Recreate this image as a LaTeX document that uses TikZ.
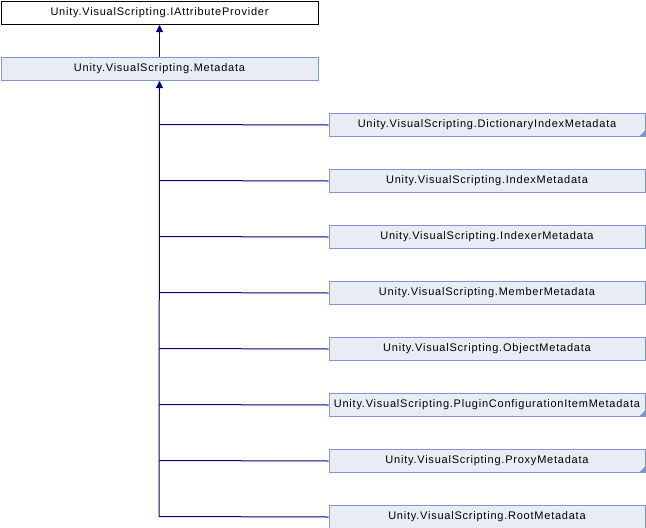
\documentclass[tikz,border=0pt]{standalone}
\usepackage{fontspec}
\setmainfont{Liberation Sans}[LetterSpace=7]
\usetikzlibrary{arrows.meta}
\definecolor{boxfill}{RGB}{232,236,244}
\definecolor{boxline}{RGB}{128,152,204}
\definecolor{navy}{RGB}{0,0,128}
\begin{document}
\begin{tikzpicture}[x=1pt,y=-1pt,
  cls/.style={draw=boxline,fill=boxfill,line width=1pt,minimum height=23pt,inner sep=0pt,font=\fontsize{11}{13}\selectfont,anchor=north west},
  iface/.style={cls,draw=black,fill=white},
  inh/.style={draw=navy,line width=1pt,-{Triangle[length=7pt,width=7pt]}},
  edge/.style={draw=navy,line width=1pt},
  corner/.style={fill=boxline}]
\useasboundingbox (0,0) rectangle (646,528);
\node[iface,minimum width=317pt] (iap) at (0.5,1) {Unity.VisualScripting.IAttributeProvider};
\node[cls,minimum width=317pt] (meta) at (0.5,57) {Unity.VisualScripting.Metadata};
\draw[inh] (meta.north) -- (iap.south);
\foreach \n/\t [count=\i from 0] in {dim/DictionaryIndexMetadata,im/IndexMetadata,ixm/IndexerMetadata,mm/MemberMetadata,om/ObjectMetadata,pcim/PluginConfigurationItemMetadata,pm/ProxyMetadata,rm/RootMetadata}{
  \node[cls,minimum width=316pt] (\n) at (328.5,113+56*\i) {Unity.VisualScripting.\t};
  \draw[edge] (\n.west) -- (159,124.5+56*\i);
}
\coordinate (trunkend) at (159,516.5);
\draw[inh] (trunkend) -- (meta.south);
\foreach \n in {dim,pcim,pm}{
  \fill[corner] ([shift={(-0.5,-0.5)}]\n.south east) -- ++(-6,0) -- ++(6,-6) -- cycle;
}
\end{tikzpicture}
\end{document}
